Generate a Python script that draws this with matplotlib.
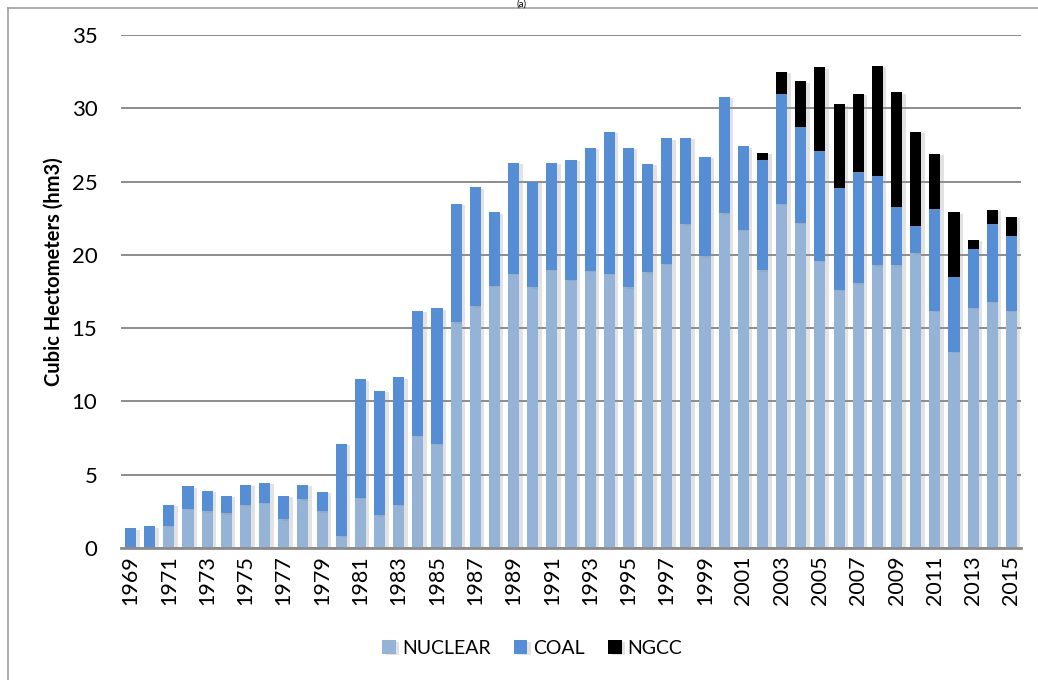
import numpy as np
import matplotlib
matplotlib.use("Agg")
import matplotlib.pyplot as plt
import matplotlib.patheffects as pe

plt.rcParams['font.family'] = ['Lato', 'DejaVu Sans']

years = list(range(1969, 2016))
nuclear = [0.0, 0.0, 1.53, 2.70, 2.51, 2.38, 2.94, 3.07, 1.95, 3.33, 2.51,
           0.83, 3.41, 2.24, 2.97, 7.64, 7.13, 15.4, 16.5, 17.9, 18.7,
           17.8, 19.0, 18.3, 18.9, 18.7, 17.8, 18.8, 19.4, 22.1, 19.9,
           22.85, 21.7, 18.95, 23.48, 22.2, 19.6, 17.6, 18.05, 19.3, 19.3,
           20.1, 16.2, 13.4, 16.4, 16.8, 16.2]
coal_top = [1.36, 1.48, 2.97, 4.21, 3.92, 3.58, 4.33, 4.45, 3.55, 4.31, 3.84,
            7.13, 11.51, 10.71, 11.65, 16.2, 16.35, 23.5, 24.6, 22.9, 26.3,
            25.0, 26.3, 26.5, 27.3, 28.4, 27.3, 26.2, 27.96, 28.0, 26.7,
            30.8, 27.4, 26.5, 30.97, 28.7, 27.1, 24.57, 25.64, 25.4, 23.3,
            22.0, 23.1, 18.5, 20.4, 22.1, 21.3]
ngcc_top = [0] * 33 + [26.96, 32.5, 31.85, 32.8, 30.27, 31.0, 32.9, 31.1,
                       28.4, 26.9, 22.9, 21.05, 23.07, 22.6]

coal = [c - n for c, n in zip(coal_top, nuclear)]
ngcc = [max(g - c, 0) for g, c in zip(ngcc_top, coal_top)]

fig = plt.figure(figsize=(10.38, 6.8), dpi=100)
ax = fig.add_axes([0.1166, 0.194, 0.8670, 0.7545])

x = np.arange(len(years))
w = 0.58
shadow = [pe.SimplePatchShadow(offset=(2.5, -1), shadow_rgbFace='#8f8f8f', alpha=0.25), pe.Normal()]
b1 = ax.bar(x, nuclear, w, color='#95B3D7', label='NUCLEAR', zorder=3)
b2 = ax.bar(x, coal, w, bottom=nuclear, color='#558ED5', label='COAL', zorder=3)
b3 = ax.bar(x, ngcc, w, bottom=coal_top, color='black', label='NGCC', zorder=3)
for bars in (b1, b2, b3):
    for p in bars:
        p.set_path_effects(shadow)

ax.set_xlim(-0.5, len(years) - 0.5)
ax.set_ylim(0, 35)
ax.set_yticks(range(0, 36, 5))
ax.yaxis.grid(True, color='#8c8c8c', linewidth=1.4, zorder=0)
ax.set_axisbelow(True)
for s in ['top', 'right', 'left']:
    ax.spines[s].set_visible(False)
ax.spines['bottom'].set_color('#8c8c8c')
ax.spines['bottom'].set_linewidth(2)
ax.spines['bottom'].set_zorder(4)

ax.set_xticks(x[::2])
ax.set_xticklabels([str(y) for y in years[::2]], rotation=90, fontsize=15.5)
ax.tick_params(axis='both', length=0)
ax.tick_params(axis='x', pad=5)
ax.tick_params(axis='y', labelsize=16, pad=17)

fig.text(0.052, 0.60, 'Cubic Hectometers (hm3)', rotation=90, fontsize=14.5,
         fontweight='bold', ha='center', va='center')

ax.legend(loc='upper center', bbox_to_anchor=(0.457, -0.145), ncol=3,
          frameon=False, fontsize=14, handlelength=0.7, handleheight=0.7,
          handletextpad=0.3, columnspacing=1.2)

fig.text(0.502, 1.0, '(a)', ha='center', va='top', fontsize=7)
fig.add_artist(plt.Line2D([0.0077, 1.0], [0.988, 0.988], color='#a0a0a0', linewidth=1.2))
fig.add_artist(plt.Line2D([0.0077, 0.0077], [0.0, 0.988], color='#a0a0a0', linewidth=1.2))

fig.savefig('out.png', dpi=100)
